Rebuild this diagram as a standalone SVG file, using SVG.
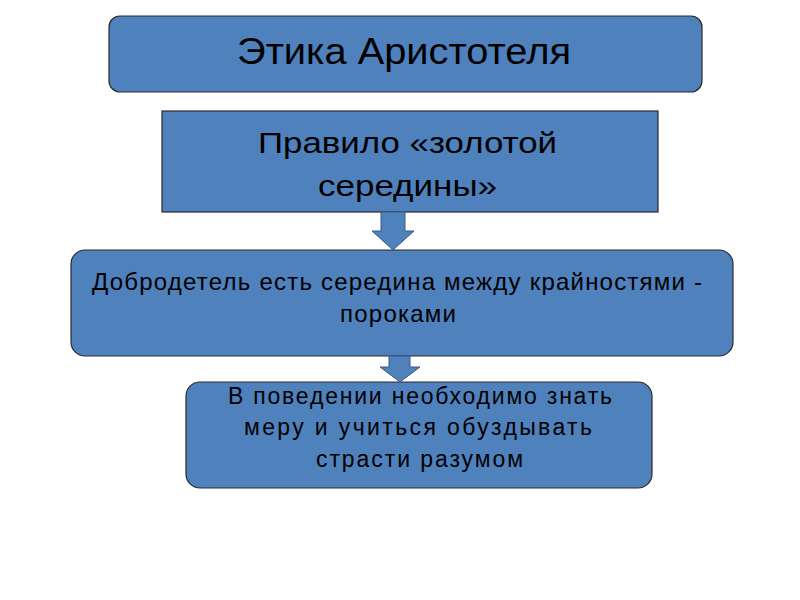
<svg xmlns="http://www.w3.org/2000/svg" width="800" height="600" viewBox="0 0 800 600">
<style>
.box{fill:#4f81bd;stroke:#2b2b2b;stroke-width:1.2}
.arr{fill:#4f81bd;stroke:#385d8a;stroke-width:1}
text{font-family:"Liberation Sans",Arial,sans-serif;fill:#000;text-anchor:middle}
.t1{font-size:36px}
.t2{font-size:29px}
.t3{font-size:24px}
.t4{font-size:23px}
</style>
<rect width="800" height="600" fill="#fff"/>
<g id="node-ethics">
<rect class="box" x="109" y="16" width="593" height="76" rx="11"/>
<text class="t1" x="404" y="64" textLength="334" lengthAdjust="spacingAndGlyphs">Этика Аристотеля</text>
</g>
<g id="node-rule">
<rect class="box" x="162" y="111" width="496" height="101" rx="0"/>
<text class="t2" x="407.5" y="153" textLength="299" lengthAdjust="spacingAndGlyphs">Правило «золотой</text>
<text class="t2" x="407.5" y="196" textLength="179" lengthAdjust="spacingAndGlyphs">середины»</text>
</g>
<g id="node-virtue">
<rect class="box" x="71" y="250" width="662" height="106" rx="14"/>
<text class="t3" x="397" y="290" textLength="610" lengthAdjust="spacing">Добродетель есть середина между крайностями -</text>
<text class="t3" x="398" y="322" textLength="116" lengthAdjust="spacing">пороками</text>
</g>
<g id="node-behavior">
<rect class="box" x="186" y="382" width="466" height="106" rx="14"/>
<text class="t4" x="420" y="404" textLength="384" lengthAdjust="spacing">В поведении необходимо знать</text>
<text class="t4" x="418" y="435" textLength="348" lengthAdjust="spacing">меру и учиться обуздывать</text>
<text class="t4" x="419.5" y="467" textLength="207" lengthAdjust="spacing">страсти разумом</text>
</g>
<g id="connectors">
<polygon class="arr" points="381,212 405,212 405,231 414,231 393,250 372,231 381,231"/>
<polygon class="arr" points="389,356 410,356 410,367 420,367 400,382 380,367 389,367"/>
</g>
</svg>
